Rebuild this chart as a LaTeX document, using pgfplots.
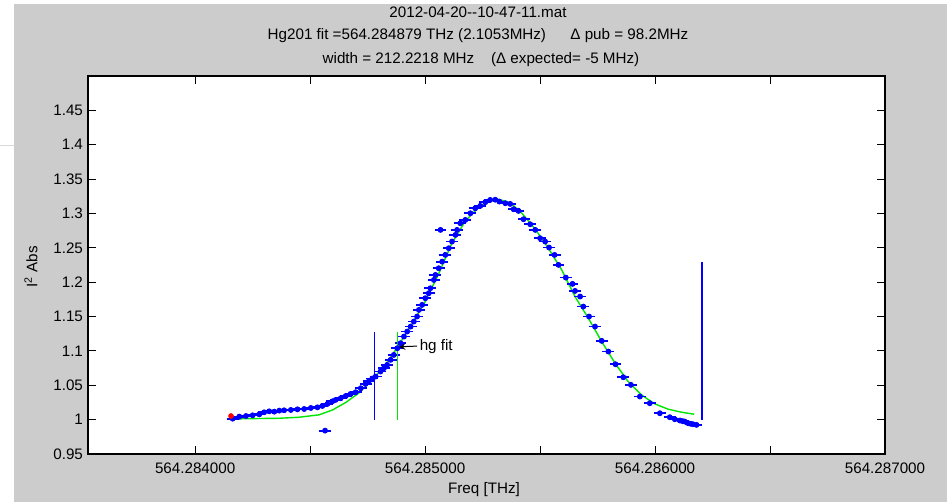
\documentclass[border=0pt]{standalone}
\usepackage{pgfplots}
\pgfplotsset{compat=1.18}
\usepackage{fontspec}
\setmainfont{Liberation Sans}
\definecolor{matgray}{RGB}{204,204,204}
\definecolor{matgreen}{RGB}{0,230,0}
\definecolor{matblue}{RGB}{0,0,255}

\begin{document}
% picture drawn in screen pixels: 1px = 0.5pt, y downwards
\begin{tikzpicture}[x=0.5pt, y=-0.5pt, font=\fontsize{7.6}{9}\selectfont]
\fill[white] (0,0) rectangle (947,502);
\useasboundingbox (0,0) rectangle (947,502);
\fill[matgray] (14,4) rectangle (947,502);
\draw[black!15, line width=0.5pt] (0,146) -- (14,146);

\begin{axis}[
scale only axis,
width=398.5pt,
height=189pt,
at={(44pt,-227pt)},
anchor=south west,
axis background/.style={fill=white},
axis line style={black, line width=0.6pt},
xmin=-466, xmax=3000,
ymin=0.95, ymax=1.5,
% x in MHz above 564.284 THz
xtick={0,500,1000,1500,2000,2500,3000},
xticklabels={564.284000,,564.285000,,564.286000,,564.287000},
ytick={0.95,1,1.05,1.1,1.15,1.2,1.25,1.3,1.35,1.4,1.45},
yticklabels={0.95,1,1.05,1.1,1.15,1.2,1.25,1.3,1.35,1.4,1.45},
tick style={black, line width=0.5pt},
major tick length=4pt,
tick label style={font=\fontsize{7.6}{9}\selectfont},
xticklabel style={yshift=-1pt},
yticklabel style={xshift=1pt},
]

% fit
\addplot[matgreen, line width=0.7pt] coordinates {
(163,1.001) (250,1.0015) (366,1.002) (452,1.0035) (539,1.007) (597,1.014)
(655,1.025) (713,1.039) (770,1.058) (828,1.080) (877,1.104) (944,1.140)
(1001,1.172) (1060,1.213) (1117,1.257) (1175,1.289) (1233,1.309) (1291,1.3200)
(1312,1.3212) (1370,1.3158) (1421,1.3003) (1479,1.2771) (1536,1.2494) (1594,1.2179)
(1652,1.1790) (1710,1.1476) (1768,1.1136) (1826,1.0821) (1883,1.0554) (1941,1.0360)
(1999,1.0229) (2057,1.0152) (2115,1.0108) (2170,1.0079)
};

% data
\addplot[only marks, matblue, mark=*, mark size=1.25pt,
error bars/.cd, x dir=both, x fixed=26, y dir=both, y fixed=0.0035, error mark=none,
error bar style={line width=0.9pt, matblue}] coordinates {
(163,1.0014) (192,1.0044) (221,1.0053) (250,1.0063) (279,1.0077) (300,1.0107)
(322,1.0121) (344,1.0116) (366,1.0131) (387,1.0136) (416,1.0141) (445,1.0150)
(474,1.0155) (503,1.0170) (532,1.0179) (553,1.0199) (575,1.0228) (597,1.0267)
(611,1.0287) (633,1.0311) (655,1.0345) (676,1.0374) (698,1.0399) (720,1.0457)
(741,1.0520) (756,1.0564) (770,1.0598) (785,1.0627) (806,1.0700) (821,1.0748)
(835,1.0797) (850,1.0870) (864,1.0942) (879,1.1039) (893,1.1112) (908,1.1209)
(922,1.1282) (937,1.1354) (951,1.1427) (965,1.1500) (973,1.1597) (987,1.1670)
(1001,1.1767) (1016,1.1839) (1023,1.1912) (1038,1.2033) (1045,1.2106) (1059,1.2203)
(1074,1.2299) (1088,1.2397) (1103,1.2494) (1117,1.2591) (1132,1.2688) (1139,1.2761)
(1153,1.2858) (1175,1.2906) (1197,1.3003) (1218,1.3076) (1240,1.3110) (1262,1.3165)
(1283,1.3197) (1305,1.3200) (1323,1.3173) (1349,1.3149) (1370,1.3139) (1385,1.3062)
(1406,1.3037) (1428,1.2916) (1457,1.2843) (1479,1.2761) (1500,1.2640) (1522,1.2591)
(1539,1.2504) (1563,1.2397) (1580,1.2252) (1612,1.2067) (1641,1.1975) (1652,1.1873)
(1674,1.1791) (1688,1.1645) (1713,1.1500) (1739,1.1354) (1768,1.1146) (1797,1.0991)
(1828,1.0806) (1862,1.0617) (1895,1.0506) (1934,1.0336) (1977,1.0239) (2021,1.0093)
(2064,1.0035) (2086,1.0006) (2108,0.9987) (2129,0.9972) (2144,0.9948) (2165,0.9933)
(2180,0.9924) (2120,0.9978) (2155,0.9940)
(1067,1.2761) (565,0.984)
};

% first point
\addplot[only marks, red, mark=*, mark size=1.2pt] coordinates {(156,1.0053)};

% markers of the fit and the published line
\addplot[matblue, line width=0.7pt] coordinates {(779,1.0) (779,1.128)};
\addplot[matgreen, line width=0.7pt] coordinates {(879,1.0) (879,1.128)};
\addplot[matblue, line width=0.7pt] coordinates {(2204,1.0) (2204,1.23)};

\draw[black, line width=0.5pt, -stealth] (axis cs:965,1.107) -- (axis cs:885,1.106);
\node[anchor=west, inner sep=0pt, font=\fontsize{7.6}{9}\selectfont] at (axis cs:975,1.107) {hg fit};
\end{axis}

\node at (478,12) {2012-04-20-{}-10-47-11.mat};
\node at (478,36) {Hg201 fit =564.284879 THz (2.1053MHz)\hspace{1.6em}Δ pub = 98.2MHz};
\node at (481,60) {width = 212.2218 MHz\hspace{1.1em}(Δ expected= -5 MHz)};
\node[rotate=90] at (31,267) {I\textsuperscript{2} Abs};
\node at (484,490) {Freq [THz]};
\end{tikzpicture}
\end{document}
